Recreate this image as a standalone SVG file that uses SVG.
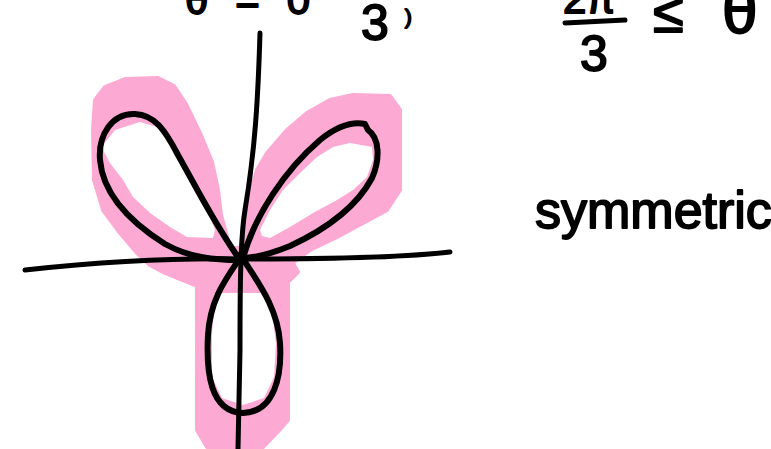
<svg xmlns="http://www.w3.org/2000/svg" width="771" height="449" viewBox="0 0 771 449">
<style>
.pink{fill:#fcaad3;stroke:#fcaad3;stroke-width:4;stroke-linejoin:round}
.hole{fill:#ffffff;stroke:none}
.ink{fill:none;stroke:#000;stroke-width:6;stroke-linecap:round;stroke-linejoin:round}
.axis{fill:none;stroke:#000;stroke-width:5;stroke-linecap:round}
.t{font-family:"Liberation Sans",Arial,sans-serif;fill:#000;stroke:#000;stroke-width:1.8;stroke-linejoin:round}
</style>
<rect width="771" height="449" fill="#ffffff"/>
<g id="highlight">
<path class="pink" d="M240,262 L228,240 L221,215 L218,190 L212,162 L200,133 L186,104 L174,86 L158,78 L125,79 L105,87 L95,100 L93,130 L94,180 L103,210 L120,233 L137,253 L150,265 L165,273 L180,279 L200,284 L240,280 Z"/>
<path class="pink" d="M245,258 L247,230 L250,195 L257,170 L267,153 L287,130 L307,113 L330,100 L353,95 L390,96 L400,110 L400,190 L387,210 L363,223 L337,237 L310,250 L287,267 L270,277 L250,270 Z"/>
<path class="pink" d="M150,262 L165,272 L180,279 L197,286 L197,430 L207,447 L263,447 L282,427 L288,420 L288,282 L298,272 L290,258 L240,248 L215,248 Z"/>
<path class="hole" d="M103,145 L115,130 L140,122 L157,127 L173,147 L190,177 L207,210 L215,230 L213,238 L187,237 L170,227 L150,213 L133,197 L123,180 L110,163 L104,152 Z"/>
<path class="hole" d="M260,230 L270,210 L283,190 L300,173 L317,157 L333,147 L350,143 L372,147 L373,160 L367,177 L353,190 L337,200 L313,213 L290,227 L270,238 L262,236 Z"/>
<path class="hole" d="M218,293 L262,293 L272,313 L276,343 L274,377 L264,398 L243,405 L222,398 L212,377 L212,333 L215,300 Z"/>
</g>
<g id="axes">
<path class="axis" d="M25,270 C100,262 180,258 240,259 C320,259 400,258 450,252"/>
<path class="axis" d="M260,33 C258,100 255,150 245,210 C240,240 240,300 240,350 L238,449"/>
</g>
<g id="petals">
<path class="ink" d="M240,260 C215,225 195,185 178,155 C165,130 155,115 135,114 C112,113 98,135 100,160 C103,195 130,222 165,244 C190,258 215,260 240,260 Z"/>
<path class="ink" d="M243,258 C255,215 285,170 320,140 C340,124 355,122 365,124 L368,130 C380,138 380,160 372,178 C355,210 320,232 290,246 C270,254 255,258 243,258 Z"/>
<path class="ink" d="M240,258 C225,280 210,300 208,335 C206,372 210,412 243,413 C275,412 282,375 280,343 C278,310 260,285 245,262 Z"/>
<circle cx="240" cy="258" r="6" fill="#000"/>
</g>
<g id="labels">
<text class="t" x="185" y="14" font-size="42" textLength="125" lengthAdjust="spacing">θ = 0</text>
<text class="t" x="361" y="40" font-size="50">3</text>
<text class="t" x="405" y="24" font-size="20">)</text>
<text class="t" x="563" y="13" font-size="42">2π</text>
<path class="axis" d="M565,23 L625,20"/>
<text class="t" x="580" y="71" font-size="50">3</text>
<text class="t" x="653" y="32" font-size="56">≤</text>
<text class="t" x="722" y="33" font-size="64">θ</text>
<text class="t" x="535" y="228" font-size="52">symmetric</text>
</g>
</svg>
